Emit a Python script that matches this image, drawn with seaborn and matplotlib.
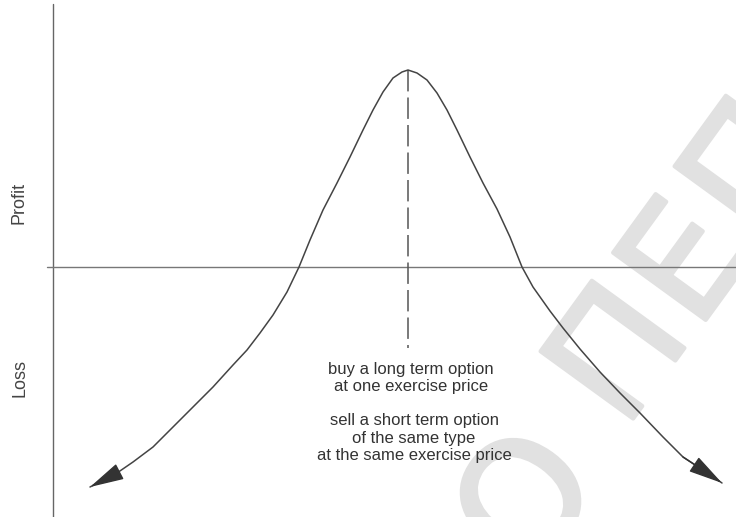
import numpy as np
import pandas as pd
import matplotlib.pyplot as plt
import matplotlib.patheffects as pe
from matplotlib.patches import ArrowStyle
import seaborn as sns

# calendar spread payoff (price position, profit)
price = [90, 117, 133, 153, 173, 193, 213, 233, 247, 260, 273, 287, 299,
         310, 323, 337, 350, 363, 373, 383, 393, 402, 408,
         417, 427, 437, 447, 457, 470, 483, 497, 510, 522,
         533, 550, 563, 580, 600, 620, 640, 663, 683, 700, 722]
profit = [-220, -206, -195, -180, -160, -140, -120, -98, -83, -66, -48, -25, 0,
          27, 57, 84, 110, 137, 157, 175, 189, 195, 197,
          194, 187, 174, 157, 137, 110, 84, 58, 30, 0,
          -20, -44, -61, -82, -105, -126, -146, -170, -190, -201, -216]

strike = 408
dash_bottom = -81
axis_x = 53
axis_top = 263
axis_left = 47

profit_label = 'Profit'
loss_label = 'Loss'
note_long = 'buy a long term option\nat one exercise price'
note_short = 'sell a short term option\nof the same type\nat the same exercise price'
# watermark letters and where they sit
mark_letters = ['Ο', 'Π', 'Ε', 'Π']
mark_x = [532, 624, 691, 758]
mark_y = [-238, -91, 0, 94]

sns.set_theme(style='white')
plt.rcParams['font.family'] = ['Liberation Sans', 'DejaVu Sans']

fig = plt.figure(figsize=(7.36, 5.17), dpi=100)
ax = fig.add_axes([0, 0, 1, 1])
ax.set_xlim(0, 736)
ax.set_ylim(-250, 267)
ax.axis('off')

# faint watermark behind everything
for ch, mx, my in zip(mark_letters, mark_x, mark_y):
    ax.text(mx, my, ch, fontsize=113, rotation=54, color='#e1e1e1',
            ha='center', va='center', zorder=0, family='DejaVu Sans',
            path_effects=[pe.withStroke(linewidth=3, foreground='#e1e1e1')])

# axes lines
ax.plot([axis_x, axis_x], [axis_top, -250], color='#666666', lw=1, zorder=2)
ax.plot([axis_left, 736], [0, 0], color='#777777', lw=1, zorder=2)

# dashed line at the exercise price
ax.plot([strike, strike], [max(profit), dash_bottom], color='#555555', lw=1.1,
        dashes=(14, 4), zorder=2)

df = pd.DataFrame({'price': price, 'profit': profit})
sns.lineplot(data=df, x='price', y='profit', sort=False, estimator=None,
             color='#444444', lw=1.1, ax=ax, zorder=3)

head = ArrowStyle('-|>', head_length=1.8, head_width=0.45)
ax.annotate('', xy=(price[0], profit[0]), xytext=(price[1], profit[1]),
            arrowprops=dict(arrowstyle=head, mutation_scale=12, color='#333333',
                            lw=1, shrinkA=0, shrinkB=0), zorder=4)
ax.annotate('', xy=(price[-1], profit[-1]), xytext=(price[-3], profit[-3]),
            arrowprops=dict(arrowstyle=head, mutation_scale=12, color='#333333',
                            lw=1, shrinkA=0, shrinkB=0), zorder=4)

ax.text(19, 64, profit_label, rotation=90, ha='center', va='center',
        fontsize=13, color='#444444')
ax.text(20, -111, loss_label, rotation=90, ha='center', va='center',
        fontsize=13, color='#444444')

ax.text(411, -111, note_long, ha='center', va='center', multialignment='center',
        fontsize=12, color='#333333', linespacing=1.2)
ax.text(414, -171, note_short, ha='center', va='center', multialignment='center',
        fontsize=12, color='#333333', linespacing=1.2)

fig.savefig('out.png', dpi=100, facecolor='white')
